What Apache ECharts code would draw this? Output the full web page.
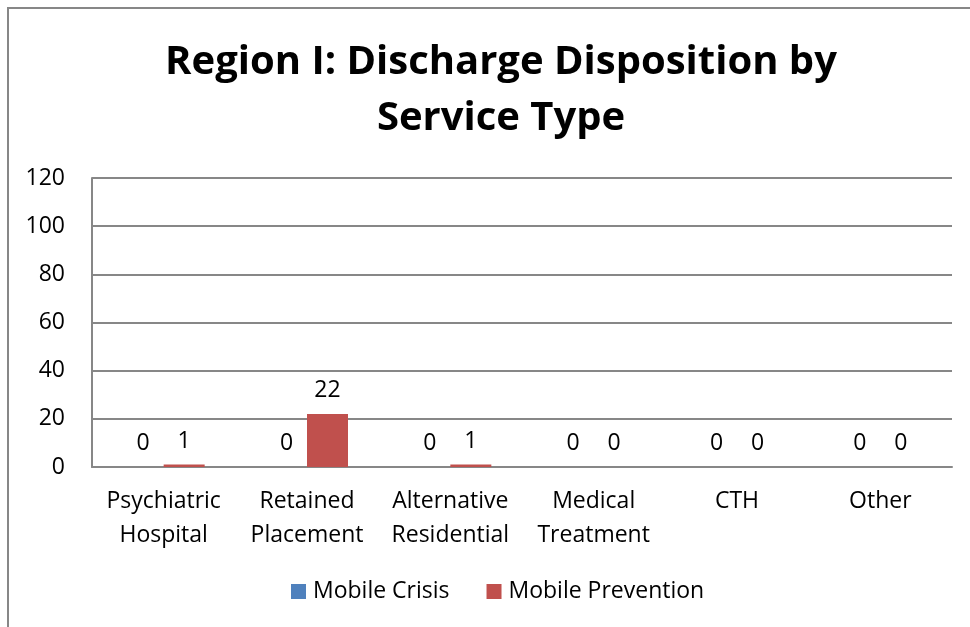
<!DOCTYPE html>
<html>
<head>
<meta charset="utf-8">
<script src="https://cdn.jsdelivr.net/npm/echarts@6/dist/echarts.min.js"></script>
<style>
  html, body { margin: 0; padding: 0; background: #fff; }
  #chart { width: 970px; height: 627px; }
  /* only the top and left edges of the chart frame are visible */
  .frame {
    position: absolute; left: 7px; top: 7px; right: 0; bottom: 0;
    border-left: 2px solid #878787; border-top: 2px solid #878787;
    pointer-events: none;
  }
</style>
</head>
<body>
<div id="chart"></div>
<div class="frame"></div>
<script>
// data
var categories = ["Psychiatric\nHospital", "Retained\nPlacement", "Alternative\nResidential", "Medical\nTreatment", "CTH", "Other"];
var mobileCrisis = [0, 0, 0, 0, 0, 0];
var mobilePrevention = [1, 22, 1, 0, 0, 0];
var yTicks = [0, 20, 40, 60, 80, 100, 120];

var font = "Open Sans";
var chart = echarts.init(document.getElementById("chart"));

var barLabel = {
  show: true,
  position: "top",
  distance: 12,
  color: "#000",
  fontFamily: font,
  fontSize: 23
};

chart.setOption({
  animation: false,
  title: {
    text: "Region I: Discharge Disposition by\nService Type",
    left: 496,
    textAlign: "center",
    top: 30,
    textStyle: {
      fontFamily: font,
      fontWeight: "bold",
      fontSize: 40,
      lineHeight: 56,
      color: "#000"
    }
  },
  legend: {
    bottom: 19,
    left: 286,
    itemWidth: 15,
    itemHeight: 15,
    itemGap: 37,
    icon: "rect",
    textStyle: { fontFamily: font, fontSize: 23, color: "#000", padding: [0, 0, 0, 2] },
    data: ["Mobile Crisis", "Mobile Prevention"]
  },
  grid: {
    left: 92,
    right: 18,
    top: 178,
    bottom: 160
  },
  xAxis: {
    type: "category",
    data: categories,
    axisTick: { show: false },
    axisLine: { lineStyle: { color: "#878787", width: 2 } },
    axisLabel: {
      color: "#000",
      fontFamily: font,
      fontSize: 23,
      lineHeight: 34,
      margin: 17,
      interval: 0
    }
  },
  yAxis: {
    type: "value",
    min: yTicks[0],
    max: yTicks[yTicks.length - 1],
    interval: 20,
    axisLine: { show: true, lineStyle: { color: "#878787", width: 2 } },
    axisTick: { show: false },
    splitLine: { lineStyle: { color: "#878787", width: 2 } },
    axisLabel: {
      color: "#000",
      fontFamily: font,
      fontSize: 23,
      margin: 27
    }
  },
  series: [
    {
      name: "Mobile Crisis",
      type: "bar",
      data: mobileCrisis,
      barWidth: 41,
      barGap: "0%",
      itemStyle: { color: "#4F81BD" },
      label: barLabel
    },
    {
      name: "Mobile Prevention",
      type: "bar",
      data: mobilePrevention,
      barWidth: 41,
      barGap: "0%",
      itemStyle: { color: "#C0504D" },
      label: barLabel
    }
  ]
});
</script>
</body>
</html>
